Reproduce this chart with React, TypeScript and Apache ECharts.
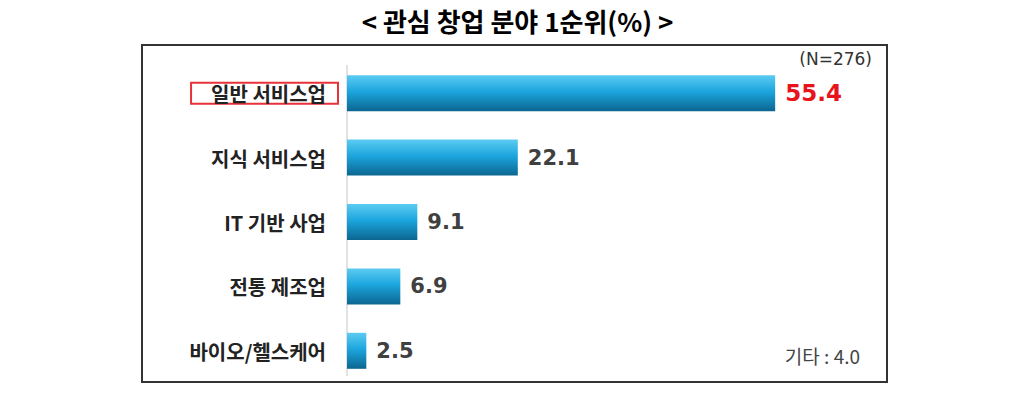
import React, { useEffect, useRef } from "react";
import * as echarts from "echarts";

const TITLE = "< 관심 창업 분야 1순위(%) >";
const categories = ["일반 서비스업", "지식 서비스업", "IT 기반 사업", "전통 제조업", "바이오/헬스케어"];
const values = [55.4, 22.1, 9.1, 6.9, 2.5];
const sampleNote = "(N=276)";
const otherNote = "기타 : 4.0";

const FONT = "'Noto Sans CJK KR', 'Noto Sans', sans-serif";
const NUMFONT = "'DejaVu Sans', 'Liberation Sans', sans-serif";

export default function App() {
  const ref = useRef<HTMLDivElement>(null);
  useEffect(() => {
    if (!ref.current) return;
    const chart = echarts.init(ref.current, null, { renderer: "svg" });
    const barGrad = new echarts.graphic.LinearGradient(0, 0, 0, 1, [
      { offset: 0, color: "#5ccbf2" },
      { offset: 0.45, color: "#1ca6de" },
      { offset: 1, color: "#0b6690" },
    ]);
    const labelBase = {
      fontFamily: FONT,
      fontSize: 20,
      fontWeight: "bold",
      color: "#222",
    };
    chart.setOption({
      animation: false,
      backgroundColor: "#ffffff",
      grid: { left: 347, right: 147, top: 61, height: 322, containLabel: false },
      xAxis: {
        type: "value",
        min: 0,
        max: 70,
        show: false,
      },
      yAxis: {
        type: "category",
        inverse: true,
        data: categories,
        axisLine: { show: false },
        axisTick: { show: false },
        axisLabel: {
          margin: 9,
          ...labelBase,
          formatter: (v: string, i: number) => (i === 0 ? `{boxed|${v}}` : `{plain|${v}}`),
          rich: {
            boxed: {
              ...labelBase,
              borderColor: "#e8323a",
              borderWidth: 2,
              padding: [1, 12, 0, 20],
            },
            plain: {
              ...labelBase,
              padding: [1, 12, 0, 0],
            },
          },
        },
      },
      series: [
        {
          type: "bar",
          data: values.map((v, i) => ({
            value: v,
            label: i === 0 ? { color: "#e8141c", fontSize: 23 } : undefined,
          })),
          barWidth: 36,
          itemStyle: { color: barGrad },
          label: {
            show: true,
            position: "right",
            distance: 10,
            fontFamily: NUMFONT,
            fontWeight: "bold",
            fontSize: 21,
            color: "#404040",
            formatter: (p: any) => Number(p.value).toFixed(1),
          },
        },
      ],
      graphic: [
        {
          type: "text",
          left: "center",
          top: 7,
          style: {
            text: TITLE,
            fontFamily: FONT,
            fontSize: 26,
            fontWeight: "bold",
            fill: "#000",
          },
        },
        {
          type: "rect",
          shape: { x: 142, y: 45, width: 745, height: 337 },
          style: { fill: "none", stroke: "#333", lineWidth: 2 },
          silent: true,
        },
        {
          type: "line",
          shape: { x1: 347, y1: 65, x2: 347, y2: 376 },
          style: { stroke: "#d9d9d9", lineWidth: 1.5 },
          silent: true,
        },
        {
          type: "text",
          right: 1035 - 872,
          top: 50,
          style: {
            text: sampleNote,
            fontFamily: NUMFONT,
            fontSize: 17,
            fill: "#333",
          },
        },
        {
          type: "text",
          right: 1035 - 860,
          top: 346,
          style: {
            text: otherNote,
            fontFamily: FONT,
            fontSize: 19,
            fill: "#444",
          },
        },
      ],
    });
    return () => chart.dispose();
  }, []);
  return (
    <div
      ref={ref}
      style={{ position: "fixed", left: 0, top: 0, width: 1035, height: 398 }}
    />
  );
}
